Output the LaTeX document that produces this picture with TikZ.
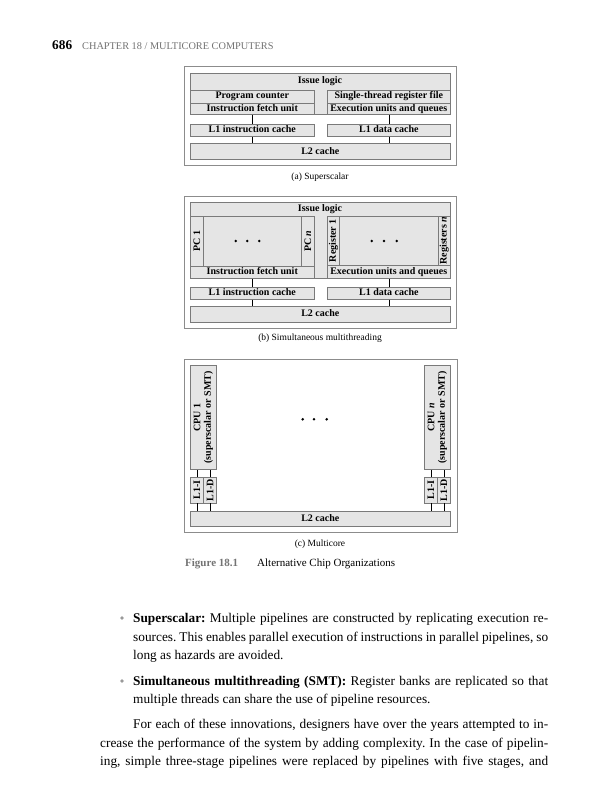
\documentclass[tikz,border=0pt]{standalone}
\usepackage{fontspec}
\setmainfont{Liberation Serif}
\usetikzlibrary{calc}
\definecolor{boxfill}{gray}{0.90}
\definecolor{boxline}{gray}{0.48}
\definecolor{panelline}{gray}{0.55}
\definecolor{headgray}{gray}{0.45}
\newcommand\figfont{\fontsize{10}{10.5}\selectfont\bfseries}
\newcommand\capfont{\fontsize{9.5}{11}\selectfont}
\newcommand\bodyfont{\fontsize{13.3}{16}\selectfont}
\newcommand\bx[6]{\node[box,anchor=north west,minimum width={(#4)-(#2)},minimum height={(#5)-(#3)}] (#1) at (#2,#3) {#6};}
\newcommand\pn[5]{\node[panel,anchor=north west,minimum width={(#4)-(#2)},minimum height={(#5)-(#3)}] (#1) at (#2,#3) {};}
\frenchspacing
\begin{document}
\begin{tikzpicture}[x=1pt,y=-1pt,
  box/.style={draw=boxline,fill=boxfill,line width=0.6pt,inner sep=0pt,font=\figfont,text height=7pt,text depth=2pt},
  panel/.style={draw=panelline,fill=white,line width=0.8pt,inner sep=0pt},
  lbl/.style={inner sep=0pt,font=\figfont},
  rlbl/.style={inner sep=0pt,font=\figfont,rotate=90},
  subcap/.style={inner sep=0pt,font=\capfont,anchor=base},
  conn/.style={draw=black,line width=0.6pt},
  bullet/.style={circle,fill=black!40,inner sep=0pt,minimum size=3.6pt},
  bodyline/.style={anchor=base west,inner sep=0pt,font=\bodyfont},
]
\useasboundingbox (0,0) rectangle (604,800);
\fill[white] (0,0) rectangle (604,800);

% header
\node[bodyline,font=\bodyfont\bfseries] (pg) at (52,49) {686};
\node[bodyline,font=\fontsize{10.3}{12}\selectfont,text=headgray] (chap) at (82,49) {CHAPTER 18 / MULTICORE COMPUTERS};

% ---------- (a) Superscalar ----------
\pn{pa}{184}{66}{456}{165.3}
\bx{issA}{190}{73.3}{450}{114.3}{}
\node[lbl] (issAt) at (320,81.5) {Issue logic};
\bx{pcA}{190}{89.5}{314}{102.7}{Program counter}
\bx{ifuA}{190}{102.7}{314}{114.3}{Instruction fetch unit}
\bx{rfA}{327}{89.5}{450}{102.7}{Single-thread register file}
\bx{exA}{327}{102.7}{450}{114.3}{Execution units and queues}
\bx{l1iA}{190}{124}{314}{136}{L1 instruction cache}
\bx{l1dA}{327}{124}{450}{136}{L1 data cache}
\bx{l2A}{190}{143.3}{450}{159.3}{L2 cache}
\draw[conn] (ifuA.south) -- (ifuA.south |- l1iA.north);
\draw[conn] (l1iA.south) -- (l1iA.south |- l2A.north);
\draw[conn] (exA.south) -- (exA.south |- l1dA.north);
\draw[conn] (l1dA.south) -- (l1dA.south |- l2A.north);
\node[subcap] (capA) at (320,179.5) {(a) Superscalar};

% ---------- (b) SMT ----------
\pn{pb}{184}{196}{456}{327.7}
\bx{issB}{190}{202.3}{450}{278.3}{}
\node[lbl] (issBt) at (320,209) {Issue logic};
\bx{pc1B}{190}{215.7}{203.3}{266}{}
\bx{pcmB}{203.3}{215.7}{301}{266}{}
\bx{pcnB}{301}{215.7}{314}{266}{}
\bx{ifuB}{190}{266}{314}{278.3}{Instruction fetch unit}
\bx{r1B}{327}{215.7}{339.3}{265}{}
\bx{rmB}{339.3}{215.7}{437.7}{265}{}
\bx{rnB}{437.7}{215.7}{450}{265}{}
\bx{exB}{327}{265}{450}{278.3}{Execution units and queues}
\node[rlbl] (pc1t) at (pc1B) {PC 1};
\node[rlbl] (pcnt) at (pcnB) {PC \textit{n}};
\node[rlbl] (r1t) at (r1B) {Register 1};
\node[rlbl] (rnt) at (rnB) {Registers \textit{n}};
\fill (235.7,241) circle (1.4) (247.3,241) circle (1.4) (259.3,241) circle (1.4);
\fill (371.7,241) circle (1.4) (384,241) circle (1.4) (396.7,241) circle (1.4);
\bx{l1iB}{190}{287.3}{314}{299}{L1 instruction cache}
\bx{l1dB}{327}{287.3}{450}{299}{L1 data cache}
\bx{l2B}{190}{305.7}{450}{322.3}{L2 cache}
\draw[conn] (ifuB.south) -- (ifuB.south |- l1iB.north);
\draw[conn] (l1iB.south) -- (l1iB.south |- l2B.north);
\draw[conn] (exB.south) -- (exB.south |- l1dB.north);
\draw[conn] (l1dB.south) -- (l1dB.south |- l2B.north);
\node[subcap] (capB) at (320,340.5) {(b) Simultaneous multithreading};

% ---------- (c) Multicore ----------
\pn{pc}{184}{358.7}{456.5}{531.7}
\bx{cpu1}{190}{365}{216.3}{469.3}{}
\node[rlbl,align=center] (cpu1t) at (cpu1) {CPU 1\\(superscalar or SMT)};
\bx{l1i1}{190}{476.7}{203.2}{502.7}{}
\bx{l1d1}{203.2}{476.7}{216.3}{502.7}{}
\node[rlbl] (l1i1t) at (l1i1) {L1-I};
\node[rlbl] (l1d1t) at (l1d1) {L1-D};
\bx{cpun}{424}{365}{450}{469.3}{}
\node[rlbl,align=center] (cpunt) at (cpun) {CPU \textit{n}\\(superscalar or SMT)};
\bx{l1in}{424}{476.7}{437}{502.7}{}
\bx{l1dn}{437}{476.7}{450}{502.7}{}
\node[rlbl] (l1int) at (l1in) {L1-I};
\node[rlbl] (l1dnt) at (l1dn) {L1-D};
\bx{l2C}{190}{510.7}{450}{526}{L2 cache}
\draw[conn] (l1i1.north) -- (l1i1.north |- cpu1.south);
\draw[conn] (l1d1.north) -- (l1d1.north |- cpu1.south);
\draw[conn] (l1i1.south) -- (l1i1.south |- l2C.north);
\draw[conn] (l1d1.south) -- (l1d1.south |- l2C.north);
\draw[conn] (l1in.north) -- (l1in.north |- cpun.south);
\draw[conn] (l1dn.north) -- (l1dn.north |- cpun.south);
\draw[conn] (l1in.south) -- (l1in.south |- l2C.north);
\draw[conn] (l1dn.south) -- (l1dn.south |- l2C.north);
\fill (302.7,419.3) circle (1.4) (314,419.3) circle (1.4) (326.7,419.3) circle (1.4);
\node[subcap] (capC) at (320,546.5) {(c) Multicore};

% figure caption
\node[bodyline,font=\fontsize{11}{13}\selectfont\bfseries,text=headgray] (fignum) at (185,566) {Figure 18.1};
\node[bodyline,font=\fontsize{11}{13}\selectfont] (figtitle) at (257,566) {Alternative Chip Organizations};

% body text
\node[bullet] (bul1) at (122,618) {};
\node[bodyline] (s1a) at (133,622) {\makebox[415pt][s]{\textbf{Superscalar:} Multiple pipelines are constructed by replicating execution re-}};
\node[bodyline] (s1b) at (133,641) {\makebox[415pt][s]{sources. This enables parallel execution of instructions in parallel pipelines, so}};
\node[bodyline] (s1c) at (133,659) {long as hazards are avoided.};
\node[bullet] (bul2) at (122,681) {};
\node[bodyline] (s2a) at (133,685) {\makebox[415pt][s]{\textbf{Simultaneous multithreading (SMT):} Register banks are replicated so that}};
\node[bodyline] (s2b) at (133,703) {multiple threads can share the use of pipeline resources.};
\node[bodyline] (p1) at (133,728) {\makebox[415pt][s]{For each of these innovations, designers have over the years attempted to in-}};
\node[bodyline] (p2) at (100,747) {\makebox[448pt][s]{crease the performance of the system by adding complexity. In the case of pipelin-}};
\node[bodyline] (p3) at (100,765) {\makebox[448pt][s]{ing, simple three-stage pipelines were replaced by pipelines with five stages, and}};
\end{tikzpicture}
\end{document}
